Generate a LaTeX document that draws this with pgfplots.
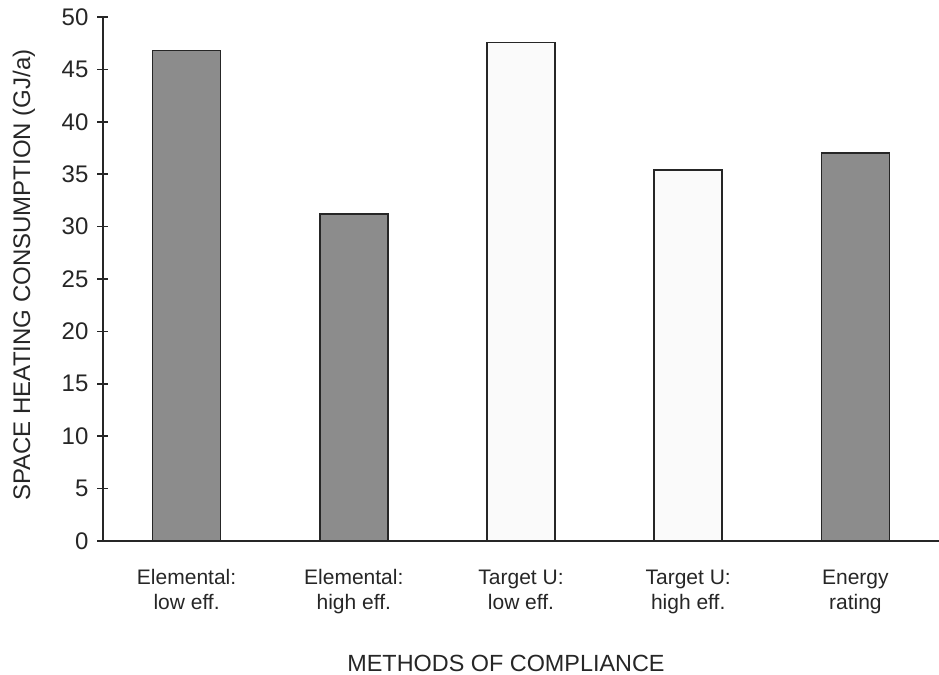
\documentclass[border=0pt]{standalone}
\usepackage{fontspec}
\setmainfont{Liberation Sans}
\usepackage{pgfplots}
\pgfplotsset{compat=1.18}
\definecolor{bargray}{HTML}{8C8C8C}
\definecolor{barwhite}{HTML}{FAFAFA}
\begin{document}
\begin{tikzpicture}
\path[use as bounding box] (-51.5pt,-67pt) rectangle (418pt,270.5pt);
\begin{axis}[
  at={(0,0)}, anchor=south west,
  scale only axis, width=418pt, height=262pt,
  xmin=-0.5, xmax=4.5, ymin=0, ymax=50,
  axis lines=left, axis line style={-, line width=0.8pt, black!85},
  ytick={0,5,...,50},
  xtick={0,1,2,3,4},
  xticklabels={{Elemental:\\low eff.},{Elemental:\\high eff.},{Target U:\\low eff.},{Target U:\\high eff.},{Energy\\rating}},
  xticklabel style={align=center, font=\fontsize{10.5}{12.5}\selectfont, text=black!85, yshift=-8pt},
  yticklabel style={font=\fontsize{12}{14}\selectfont, text=black!85, xshift=-1pt},
  minor xtick={-0.5,0.5,...,4.5},
  tick align=center,
  major tick length=5.5pt, minor tick length=5.5pt,
  xtick style={draw=none},
  minor x tick style={line width=0.8pt, black!85},
  ytick style={line width=0.8pt, black!85},
  /pgf/number format/assume math mode=true,
  clip=false,
]
\addplot[ybar, bar width=34pt, fill=bargray, draw=black!85, line width=0.8pt] coordinates {(0,46.8) (1,31.2) (4,37.0)};
\addplot[ybar, bar width=34pt, fill=barwhite, draw=black!85, line width=0.8pt] coordinates {(2,47.55) (3,35.4)};
\node[font=\fontsize{11.7}{14}\selectfont, text=black!85] at ([xshift=-7.5pt,yshift=-61pt]rel axis cs:0.5,0) {METHODS OF COMPLIANCE};
\node[font=\fontsize{12}{14}\selectfont, text=black!85, rotate=90] at ([xshift=-39.5pt,yshift=2pt]rel axis cs:0,0.5) {SPACE HEATING CONSUMPTION (GJ/a)};
\end{axis}
\end{tikzpicture}
\end{document}
